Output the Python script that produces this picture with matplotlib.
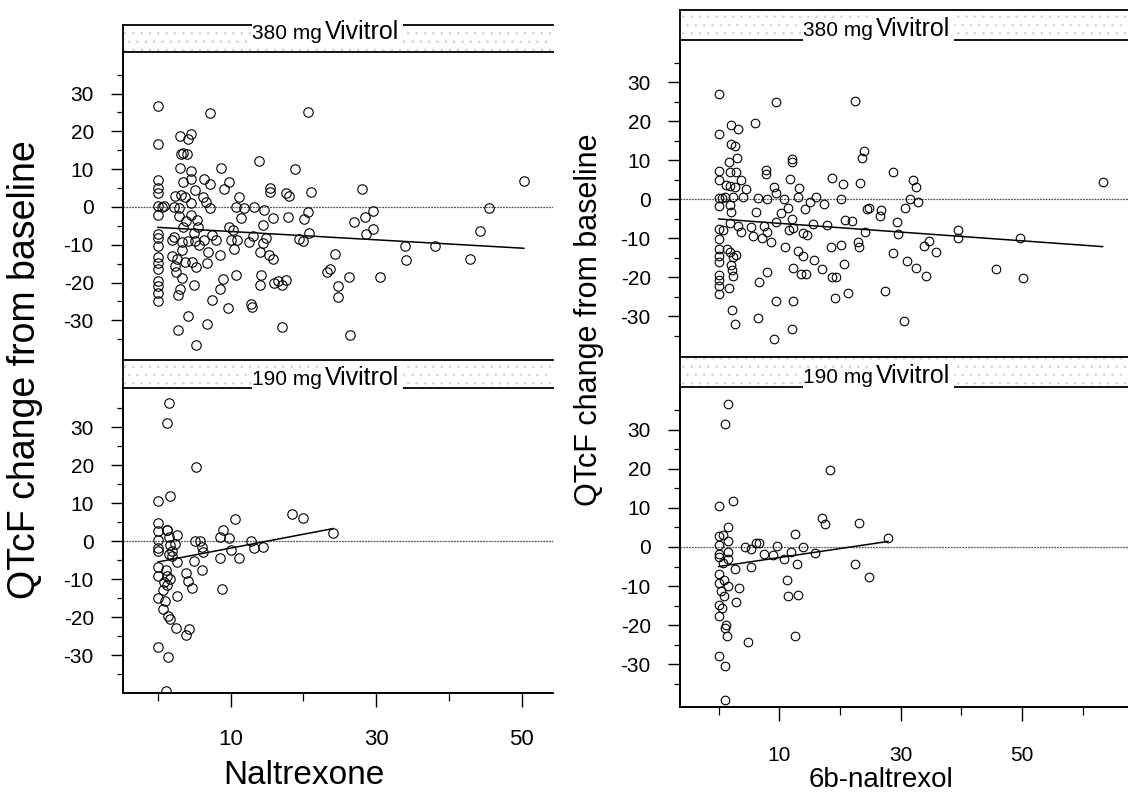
import numpy as np
import matplotlib
matplotlib.use("Agg")
import matplotlib.pyplot as plt
from matplotlib.patches import Rectangle
from matplotlib.ticker import FixedLocator

plt.rcParams['font.family'] = ['Liberation Sans', 'DejaVu Sans']
plt.rcParams['hatch.linewidth'] = 0.6
plt.rcParams['axes.unicode_minus'] = False

# ---- data: (concentration, QTcF change) ----
nal380 = [(0, 26.8), (7.1, 24.9), (20.6, 25.0), (0, 16.6), (3.1, 18.8), (4.6, 19.4), (4.1, 17.9),
          (3.2, 13.9), (4.0, 13.9), (3.4, 14.3), (3.1, 10.4), (4.6, 9.4), (13.9, 12.1), (8.7, 10.4),
          (18.8, 10.1), (0, 7.1), (0, 4.9), (0, 3.6), (3.5, 6.7), (4.6, 7.5), (6.4, 7.4), (7.2, 6.0),
          (9.8, 6.6), (9.1, 4.8), (5.1, 4.4), (2.4, 2.9), (3.2, 3.2), (3.7, 2.7), (6.2, 2.5), (6.6, 1.4),
          (11.1, 2.7), (15.4, 4.9), (15.4, 3.9), (17.6, 3.8), (18.0, 2.9), (21.0, 4.0), (28.1, 4.7),
          (50.3, 6.9), (0, 0.3), (0.5, 0.1), (0.9, 0.2), (2.2, 0.1), (2.9, -0.4), (4.6, 1.0), (7.1, -0.4),
          (10.7, 0.1), (11.8, -0.4), (13.2, 0.1), (14.6, -0.9), (20.6, -1.4), (45.5, -0.2), (0, -2.1),
          (2.9, -2.5), (4.6, -2.1), (3.8, -3.7), (5.4, -3.4), (11.4, -2.8), (15.8, -3.0), (17.9, -2.7),
          (20.1, -3.1), (28.5, -2.6), (29.5, -1.0), (27.0, -3.9), (3.4, -5.2), (5.5, -5.2), (9.8, -5.4),
          (10.3, -6.1), (14.4, -4.9), (29.5, -5.9), (44.2, -6.3), (28.6, -7.1), (20.7, -6.9), (0, -7.2),
          (0, -8.2), (2.2, -8.0), (2.0, -8.7), (3.3, -9.4), (4.2, -9.1), (4.9, -6.9), (5.1, -8.9),
          (5.7, -10.2), (6.4, -8.8), (7.4, -7.4), (8.0, -8.7), (10.0, -8.7), (10.8, -8.7), (10.5, -11.1),
          (12.5, -9.4), (13.0, -7.8), (14.5, -9.6), (14.8, -8.2), (19.4, -8.5), (20.0, -9.1), (0, -10.4),
          (3.3, -11.3), (33.9, -10.4), (38.1, -10.3), (0, -13.2), (0, -14.8), (0, -16.4), (2.0, -12.9),
          (2.6, -13.9), (2.3, -15.7), (3.7, -14.6), (4.7, -14.6), (5.3, -16.0), (6.7, -14.8), (6.9, -11.8),
          (8.6, -12.7), (14.0, -12.0), (15.3, -12.6), (15.8, -13.7), (24.4, -12.4), (34.1, -14.1),
          (42.9, -13.8), (2.5, -17.1), (3.3, -18.8), (0, -19.6), (0, -21.0), (0, -22.7), (0, -24.9),
          (3.1, -21.8), (2.8, -23.2), (5.0, -20.6), (8.9, -19.0), (8.6, -21.7), (10.7, -18.1),
          (14.2, -18.1), (14.0, -20.6), (15.9, -20.1), (16.5, -19.5), (17.1, -20.6), (17.6, -19.4),
          (23.2, -17.1), (23.7, -16.4), (24.7, -20.8), (26.2, -18.5), (30.5, -18.5), (24.8, -23.9),
          (7.5, -24.6), (9.7, -26.7), (12.8, -25.8), (12.9, -26.6), (4.2, -28.9), (2.8, -32.5),
          (6.8, -30.9), (17.0, -31.7), (26.4, -33.8), (5.2, -36.5)]

nal190 = [(1.5, 36.4), (1.2, 31.1), (5.3, 19.6), (0, 10.5), (1.6, 11.8), (0, 4.8), (0, 2.6), (0, 0.4),
          (0, -1.7), (0, -2.6), (1.2, 3.0), (1.3, 2.9), (2.6, 1.6), (1.5, 1.1), (2.3, -0.7), (1.6, -1.0),
          (2.0, -2.6), (1.5, -3.5), (1.9, -3.9), (2.6, -5.6), (5.1, 0), (5.8, 0), (6.0, -1.6), (6.2, -3.0),
          (4.9, -5.2), (6.0, -7.6), (8.5, 1.1), (8.9, 3.0), (9.8, 0.9), (10.6, 5.9), (10.1, -2.4),
          (8.5, -4.5), (11.1, -4.4), (12.8, 0), (13.2, -1.7), (14.4, -1.5), (18.4, 7.1), (20.0, 6.1),
          (24.1, 2.2), (0, -6.8), (0, -9.3), (1.1, -7.6), (1.2, -9.1), (1.6, -10.0), (0.9, -10.9),
          (1.3, -11.5), (0.7, -12.8), (3.9, -8.4), (4.2, -10.6), (4.7, -12.4), (2.6, -14.4), (8.8, -12.6),
          (0, -15.1), (1.0, -15.7), (0.7, -17.9), (1.4, -19.8), (1.6, -20.6), (2.5, -22.8), (4.3, -23.1),
          (3.8, -24.6), (0, -28.0), (1.4, -30.5), (1.1, -39.4)]

nol380 = [(0, 26.9), (9.5, 25.0), (22.4, 25.1), (0, 16.7), (5.9, 19.6), (2.0, 19.0), (3.2, 18.0),
          (2.0, 14.1), (2.7, 13.5), (3.0, 10.6), (1.7, 9.6), (12.0, 10.2), (12.0, 9.4), (23.9, 12.3),
          (23.6, 10.6), (0, 7.3), (1.8, 6.9), (2.8, 7.0), (0, 4.9), (3.7, 4.8), (1.2, 3.5), (1.8, 3.3),
          (2.7, 3.1), (4.5, 2.7), (7.8, 7.4), (7.8, 6.4), (11.7, 5.2), (9.1, 3.1), (9.5, 1.6), (13.3, 2.8),
          (18.6, 5.4), (20.5, 3.9), (23.3, 4.1), (28.7, 7.0), (32.0, 4.8), (32.6, 3.1), (63.3, 4.4),
          (0, 0.2), (0.5, 0.3), (1.0, 0.6), (2.4, 0.6), (4.0, 0.6), (6.5, 0.2), (8.0, 0), (10.8, -0.1),
          (13.0, 0.6), (16.1, 0.6), (20.1, 0), (31.5, 0), (0, -1.8), (1.8, -1.5), (2.0, -3.2), (6.2, -3.2),
          (11.4, -2.3), (15.0, -0.8), (17.4, -1.3), (14.2, -2.6), (10.2, -3.6), (9.4, -5.9), (12.0, -5.0),
          (24.4, -2.6), (24.7, -2.2), (26.7, -2.8), (26.6, -4.4), (30.7, -2.3), (32.8, -0.7), (0, -7.8),
          (0.7, -7.9), (1.8, -6.1), (3.2, -6.8), (3.7, -8.5), (5.3, -7.1), (5.7, -9.5), (7.2, -10.0),
          (7.4, -6.9), (8.0, -8.5), (8.6, -11.0), (11.6, -7.9), (12.3, -7.4), (13.9, -8.6), (14.6, -9.2),
          (15.5, -6.5), (17.9, -6.6), (20.8, -5.4), (22.0, -5.7), (24.1, -8.4), (29.4, -6.0), (29.5, -9.0),
          (39.5, -7.9), (39.5, -10.1), (49.7, -9.9), (0, -10.3), (0, -12.8), (0, -14.5), (0, -16.2),
          (1.3, -12.8), (1.8, -13.6), (2.9, -14.3), (2.4, -14.9), (2.0, -17.0), (2.1, -18.2), (2.4, -19.7),
          (0, -19.5), (0, -20.8), (0, -22.4), (0, -24.4), (1.7, -22.7), (10.9, -12.4), (13.0, -13.2),
          (13.9, -14.6), (15.7, -15.6), (17.1, -18.0), (12.2, -17.6), (13.5, -19.2), (14.4, -19.2),
          (8.0, -18.7), (6.6, -21.3), (18.5, -12.4), (20.1, -11.8), (23.0, -11.1), (23.1, -12.4),
          (20.7, -16.7), (18.6, -20.1), (19.4, -20.1), (28.8, -13.9), (31.1, -16.0), (32.5, -17.7),
          (33.8, -12.1), (34.7, -10.7), (35.8, -13.5), (34.1, -19.7), (45.7, -18.0), (50.2, -20.3),
          (9.4, -26.2), (12.2, -26.2), (19.1, -25.4), (21.3, -24.2), (27.4, -23.7), (2.1, -28.5),
          (6.5, -30.4), (2.6, -32.1), (12.1, -33.3), (30.5, -31.2), (9.1, -36.0)]

nol190 = [(1.5, 36.6), (1.0, 31.4), (18.3, 19.8), (0, 10.6), (2.3, 11.9), (1.6, 5.0), (17.0, 7.5),
          (17.5, 5.9), (23.1, 6.1), (27.9, 2.3), (12.5, 3.3), (0, 2.9), (0.7, 3.2), (1.6, 1.5), (0, 0.4),
          (0, -1.7), (0, -2.5), (1.5, -1.3), (1.5, -3.2), (0.7, -4.0), (4.4, 0), (5.3, -0.4), (6.2, 1.1),
          (6.7, 1.1), (7.4, -1.7), (9.0, -2.1), (9.6, 0.3), (10.8, -3.2), (11.9, -1.3), (13.9, 0),
          (12.9, -4.4), (15.9, -1.5), (2.7, -5.6), (5.3, -5.2), (22.5, -4.4), (24.7, -7.6), (0, -6.9),
          (0, -9.2), (0.9, -8.4), (1.5, -10.1), (3.4, -10.5), (0.4, -11.3), (0.9, -12.6), (2.9, -14.1),
          (11.2, -8.4), (11.4, -12.6), (13.0, -12.3), (0, -14.9), (0.5, -15.7), (0, -17.6), (1.2, -19.9),
          (1.0, -20.8), (1.3, -22.8), (4.8, -24.3), (12.5, -22.9), (0, -27.9), (1.0, -30.4), (1.1, -39.2)]

# linear fit: (intercept, slope)
fit_nal380 = (-5.4, -0.11)
fit_nal190 = (-5.5, 0.365)
fit_nol380 = (-5.1, -0.112)
fit_nol190 = (-5.0, 0.23)

strip_380 = ("380 mg", "Vivitrol")
strip_190 = ("190 mg", "Vivitrol")

W, H = 1128, 793
fig = plt.figure(figsize=(W / 100, H / 100), dpi=100)


def box(x0, y0, x1, y1):
    return [x0 / W, 1 - y1 / H, (x1 - x0) / W, (y1 - y0) / H]


def panel(rect, pts, fit, xlim, ylim, show_x, xfs, yfs, ms, xpad):
    ax = fig.add_axes(rect)
    x = np.array([p[0] for p in pts])
    y = np.array([p[1] for p in pts])
    ax.axhline(0, color='#555555', lw=0.9, ls=(0, (1.5, 0.8)), zorder=1)
    ax.plot(x, y, 'o', mfc='none', mec='black', mew=0.8, ms=ms, zorder=3)
    xx = np.array([x.min(), x.max()])
    ax.plot(xx, fit[0] + fit[1] * xx, color='black', lw=1.1, zorder=2)
    ax.set_xlim(*xlim)
    ax.set_ylim(*ylim)
    for s in ['top', 'right']:
        ax.spines[s].set_visible(False)
    ax.spines['left'].set_linewidth(1.4)
    ax.spines['bottom'].set_linewidth(1.4)
    ax.set_yticks([-30, -20, -10, 0, 10, 20, 30])
    ax.yaxis.set_minor_locator(FixedLocator([-35, -25, -15, -5, 5, 15, 25, 35]))
    ax.tick_params(axis='y', which='major', direction='out', length=9, width=1.0,
                   labelsize=yfs, pad=12)
    ax.tick_params(axis='y', which='minor', direction='out', length=4, width=0.9)
    if show_x:
        ax.set_xticks([10, 30, 50])
        ax.xaxis.set_minor_locator(FixedLocator([0, 20, 40, 60]))
        ax.tick_params(axis='x', which='major', direction='out', length=10, width=1.0,
                       labelsize=xfs, pad=xpad)
        ax.tick_params(axis='x', which='minor', direction='out', length=6, width=0.9)
    else:
        ax.spines['bottom'].set_visible(False)
        ax.set_xticks([])
    return ax


def strip(rect, labels, split, base):
    sa = fig.add_axes(rect)
    sa.set_xlim(0, 1)
    sa.set_ylim(0, 1)
    sa.add_patch(Rectangle((0, 0), 1, 1, facecolor='white', edgecolor='#d2d2d2',
                           hatch='..', lw=0, zorder=0))
    for s in ['top', 'bottom', 'left']:
        sa.spines[s].set_linewidth(1.3)
    sa.spines['right'].set_visible(False)
    sa.set_xticks([])
    sa.set_yticks([])
    sa.text(split + 0.006, base, labels[1], ha='left', va='baseline', fontsize=18,
            bbox=dict(facecolor='white', edgecolor='none', pad=3), zorder=3, clip_on=False)
    sa.text(split, base, labels[0], ha='right', va='baseline', fontsize=15,
            bbox=dict(facecolor='white', edgecolor='none', pad=0.5), zorder=4)
    return sa


# left column: Naltrexone
panel(box(123, 52, 553, 360), nal380, fit_nal380, (-4.8, 54.3), (-40.5, 41), False, 16, 15, 6.8, 16)
panel(box(123, 388, 553, 693), nal190, fit_nal190, (-4.8, 54.3), (-40, 40.3), True, 16, 15, 6.8, 16)
strip(box(123, 25, 553, 52), strip_380, 0.463, 0.48)
strip(box(123, 360, 553, 388), strip_190, 0.463, 0.12)

# right column: 6b-naltrexol
panel(box(680, 40, 1128, 357), nol380, fit_nol380, (-6.4, 67.5), (-40.5, 40.8), False, 15, 15, 6.2, 18)
panel(box(680, 387, 1128, 707), nol190, fit_nol190, (-6.4, 67.5), (-41, 41), True, 15, 15, 6.2, 18)
strip(box(680, 10, 1128, 40), strip_380, 0.431, 0.12)
strip(box(680, 357, 1128, 387), strip_190, 0.431, 0.12)

fig.text(25 / W, 1 - 370 / H, "QTcF change from baseline", rotation=90, ha='center', va='center', fontsize=27)
fig.text(589 / W, 1 - 320 / H, "QTcF change from baseline", rotation=90, ha='center', va='center', fontsize=22)
fig.text(304 / W, 1 - 775 / H, "Naltrexone", ha='center', va='center', fontsize=24)
fig.text(881 / W, 1 - 780 / H, "6b-naltrexol", ha='center', va='center', fontsize=20)

fig.savefig("out.png", dpi=100)
